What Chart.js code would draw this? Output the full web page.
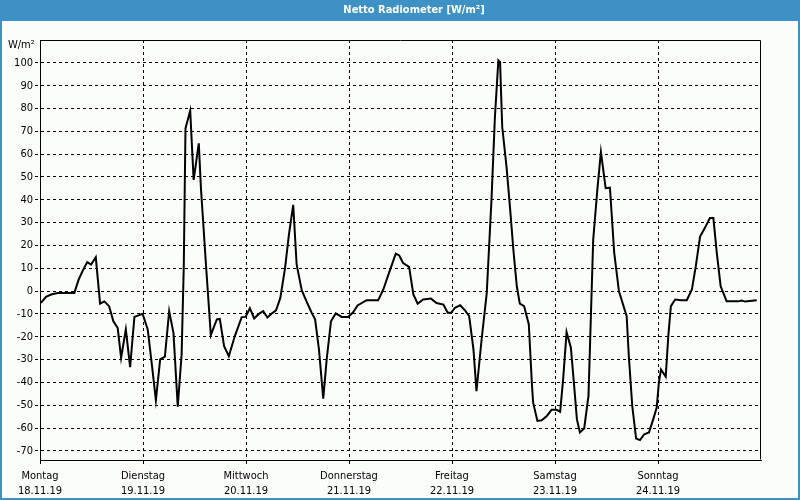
<!DOCTYPE html>
<html>
<head>
<meta charset="utf-8">
<script src="https://cdn.jsdelivr.net/npm/chart.js@4.4.1/dist/chart.umd.min.js"></script>
<style>
  html, body { margin: 0; padding: 0; background: #FBFDFB; }
  #wrap { width: 800px; height: 500px; position: relative; }
</style>
</head>
<body>
<div id="wrap"><canvas id="c" width="800" height="500"></canvas></div>
<script>
// ---- data (hours since Monday 18.11.19 00:00, W/m²) ----
const titleText = 'Netto Radiometer [W/m²]';
const unitText = 'W/m²';
const dayNames = ['Montag', 'Dienstag', 'Mittwoch', 'Donnerstag', 'Freitag', 'Samstag', 'Sonntag'];
const dayDates = ['18.11.19', '19.11.19', '20.11.19', '21.11.19', '22.11.19', '23.11.19', '24.11.19'];
const dayTicks = [0, 24, 48, 72, 96, 120, 144];
const yTicks = [-70, -60, -50, -40, -30, -20, -10, 0, 10, 20, 30, 40, 50, 60, 70, 80, 90, 100];

const hours = [
  0.2, 1.4, 2.6, 4.1, 8.0, 9.0, 9.9, 11.0, 11.9, 13.0,
  14.0, 15.0, 16.1, 17.1, 18.1, 18.9, 20.0, 21.0, 22.0, 23.9,
  25.1, 26.1, 27.0, 28.0, 29.1, 30.1, 31.1, 32.1, 33.0, 33.5,
  33.9, 35.0, 35.8, 37.0, 37.5, 38.7, 39.8, 41.2, 41.9, 42.9,
  44.0, 45.4, 47.0, 47.9, 48.9, 49.9, 51.0, 52.0, 53.0, 54.0,
  55.0, 56.0, 57.1, 58.0, 59.0, 59.8, 61.0, 62.1, 63.3, 64.1,
  65.0, 66.0, 66.8, 67.8, 68.9, 70.3, 71.8, 73.0, 74.0, 76.1,
  78.8, 80.0, 81.3, 82.9, 83.7, 84.6, 86.0, 87.0, 88.0, 89.3,
  91.1, 92.4, 94.0, 95.0, 95.8, 96.7, 97.9, 99.0, 100.0, 101.0,
  101.7, 102.9, 104.1, 105.2, 106.0, 106.8, 107.2, 107.7, 108.7, 109.5,
  110.3, 111.1, 111.8, 112.8, 113.9, 114.6, 114.9, 115.9, 116.9, 118.1,
  119.2, 120.4, 121.2, 121.9, 122.7, 123.7, 124.4, 125.1, 125.8, 126.8,
  127.8, 128.2, 128.9, 129.9, 130.7, 131.8, 132.8, 133.8, 134.9, 136.7,
  137.2, 138.0, 138.9, 139.8, 140.8, 141.9, 142.9, 143.7, 144.2, 144.7,
  145.8, 146.4, 147.0, 148.0, 149.4, 150.7, 151.9, 152.8, 153.8, 154.9,
  156.1, 156.9, 157.7, 158.6, 160.0, 162.7, 163.5, 164.3, 167.0
];
const values = [
  -5.2, -2.5, -1.5, -0.8, -0.8, 5.0, 8.7, 12.7, 11.6, 14.8,
  -5.5, -4.5, -6.6, -13.2, -16.1, -29.2, -16.8, -33.3, -11.3, -10.0,
  -16.8, -32.8, -47.8, -29.9, -28.7, -8.8, -18.3, -50.6, -27.7, 10.8,
  71.3, 79.0, 48.7, 64.7, 45.1, 10.8, -19.3, -12.4, -12.2, -24.1,
  -28.5, -19.7, -11.4, -11.3, -7.5, -12.0, -10.0, -8.8, -11.6, -9.8,
  -8.4, -3.0, 10.1, 24.7, 37.8, 11.6, 0.3, -4.5, -9.5, -12.4,
  -25.5, -47.1, -29.9, -13.2, -9.8, -11.3, -11.3, -9.2, -6.3, -4.0,
  -4.0, 0.7, 7.9, 16.4, 15.6, 12.3, 10.6, -1.5, -5.5, -3.7,
  -3.3, -5.2, -5.9, -9.5, -9.5, -7.3, -6.2, -8.4, -11.0, -25.5,
  -43.8, -21.2, -0.8, 40.0, 76.3, 101.1, 100.3, 72.0, 54.5, 37.0,
  18.1, 2.1, -5.5, -6.6, -14.6, -40.1, -48.8, -56.9, -56.6, -54.7,
  -52.0, -52.0, -52.9, -38.6, -18.0, -24.8, -40.1, -56.1, -61.9, -60.2,
  -45.9, -21.2, 22.5, 45.1, 61.0, 45.1, 45.3, 16.7, -0.1, -11.0,
  -28.5, -50.3, -64.6, -65.3, -62.7, -61.9, -56.1, -51.0, -40.1, -34.3,
  -37.5, -19.7, -6.6, -3.7, -4.0, -4.0, 0.7, 10.8, 23.9, 27.6,
  32.0, 32.0, 16.7, 2.1, -4.5, -4.5, -4.1, -4.6, -4.0
];

const FONT = "'DejaVu Sans Condensed', 'DejaVu Sans', sans-serif";
const BLUE = '#3D91C5';
const BG = '#FBFDFB';

const framePlugin = {
  id: 'frame',
  beforeDraw(chart) {
    const ctx = chart.ctx;
    const W = chart.width, H = chart.height;
    ctx.save();
    ctx.fillStyle = BG;
    ctx.fillRect(0, 0, W, H);
    // window frame
    ctx.fillStyle = BLUE;
    ctx.fillRect(0, 0, W, 21);
    ctx.fillRect(0, 0, 2, H);
    ctx.fillRect(W - 2, 0, 2, H);
    ctx.fillRect(0, H - 2, W, 2);
    // title
    ctx.fillStyle = '#FFFFFF';
    ctx.font = "bold 11px " + FONT;
    ctx.textAlign = 'center';
    ctx.textBaseline = 'middle';
    ctx.fillText(titleText, 414, 10.5);
    // unit label
    ctx.fillStyle = '#000000';
    ctx.font = "11px " + FONT;
    ctx.textAlign = 'left';
    ctx.fillText(unitText, 8, 45);
    ctx.restore();
  },
  afterDraw(chart) {
    const a = chart.chartArea;
    const ctx = chart.ctx;
    ctx.save();
    ctx.strokeStyle = '#000000';
    ctx.lineWidth = 1;
    ctx.beginPath();
    ctx.moveTo(Math.round(a.left) + 0.5, Math.round(a.top) + 0.5);
    ctx.lineTo(Math.round(a.right) - 0.5, Math.round(a.top) + 0.5);
    ctx.lineTo(Math.round(a.right) - 0.5, Math.round(a.bottom) - 0.5);
    ctx.stroke();
    ctx.restore();
  }
};

new Chart(document.getElementById('c'), {
  type: 'line',
  data: {
    datasets: [{
      data: hours.map((h, i) => ({ x: h, y: values[i] })),
      borderColor: '#000000',
      borderWidth: 2,
      pointRadius: 0,
      tension: 0,
      fill: false
    }]
  },
  options: {
    responsive: false,
    animation: false,
    devicePixelRatio: 1,
    layout: { padding: { top: 40, right: 39, left: 0, bottom: 0 } },
    plugins: { legend: { display: false }, tooltip: { enabled: false }, title: { display: false } },
    scales: {
      x: {
        type: 'linear',
        min: 0,
        max: 168,
        afterBuildTicks: (axis) => { axis.ticks = dayTicks.map(v => ({ value: v })); },
        afterFit: (axis) => { axis.height = 40; },
        ticks: {
          autoSkip: false,
          maxRotation: 0,
          padding: 5,
          color: '#000000',
          font: { family: FONT, size: 11, lineHeight: 1.36 },
          callback: (v, i) => [dayNames[i], dayDates[i]]
        },
        grid: {
          color: '#000000',
          lineWidth: 1,
          tickLength: 4,
          tickColor: '#000000',
          tickBorderDash: [3, 3]
        },
        border: { display: true, color: '#000000', width: 1, dash: [3, 3] }
      },
      y: {
        min: -74,
        max: 110,
        afterBuildTicks: (axis) => { axis.ticks = yTicks.map(v => ({ value: v })); },
        afterFit: (axis) => { axis.width = 40; },
        ticks: {
          padding: 2,
          color: '#000000',
          font: { family: FONT, size: 11 }
        },
        grid: {
          color: '#000000',
          lineWidth: 1,
          tickLength: 5,
          tickColor: '#000000',
          tickBorderDash: [3, 3]
        },
        border: { display: true, color: '#000000', width: 1, dash: [3, 3] }
      }
    }
  },
  plugins: [framePlugin]
});
</script>
</body>
</html>
